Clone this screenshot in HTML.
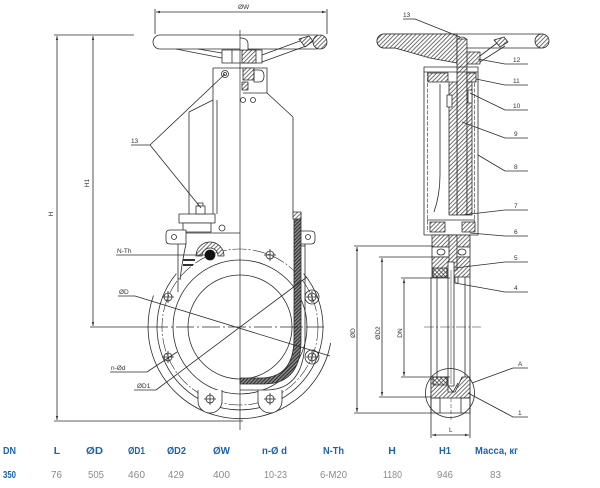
<!DOCTYPE html>
<html><head><meta charset="utf-8"><style>
html,body{margin:0;padding:0;background:#fff;}
body{width:600px;height:488px;overflow:hidden;}
svg{display:block;}
</style></head><body>
<svg xmlns="http://www.w3.org/2000/svg" width="600" height="488" viewBox="0 0 600 488">
<defs>
<pattern id="h" patternUnits="userSpaceOnUse" width="3" height="3" patternTransform="rotate(45)"><rect width="3" height="3" fill="#fff"/><line x1="0.5" y1="0" x2="0.5" y2="3" stroke="#333" stroke-width="0.7"/></pattern>
<pattern id="x" patternUnits="userSpaceOnUse" width="3" height="3" patternTransform="rotate(45)"><rect width="3" height="3" fill="#fff"/><line x1="0.5" y1="0" x2="0.5" y2="3" stroke="#333" stroke-width="0.7"/><line x1="0" y1="0.5" x2="3" y2="0.5" stroke="#333" stroke-width="0.7"/></pattern>
<pattern id="d" patternUnits="userSpaceOnUse" width="2.5" height="2.5" patternTransform="rotate(45)"><rect width="2.5" height="2.5" fill="#888"/><line x1="0.5" y1="0" x2="0.5" y2="2.5" stroke="#222" stroke-width="0.9"/></pattern>
<marker id="ar" viewBox="0 0 10 10" refX="10" refY="5" markerWidth="5" markerHeight="5" orient="auto-start-reverse"><path d="M0 2 L10 5 L0 8 z" fill="#333"/></marker>
</defs>
<rect width="600" height="488" fill="#fff"/>

<!-- ================= LEFT VIEW ================= -->
<g fill="none" stroke="#2b2b2b" stroke-width="0.8" stroke-linejoin="round">
<!-- ØW dimension -->
<line x1="155" y1="9" x2="155" y2="34"/>
<line x1="327" y1="9" x2="327" y2="34"/>
<line x1="156" y1="12" x2="326" y2="12" marker-start="url(#ar)" marker-end="url(#ar)"/>
<!-- H / H1 -->
<line x1="54" y1="35" x2="134" y2="35"/>
<line x1="57" y1="36" x2="57" y2="420" marker-start="url(#ar)" marker-end="url(#ar)"/>
<line x1="54" y1="421" x2="243" y2="421"/>
<line x1="93" y1="36" x2="93" y2="326" marker-start="url(#ar)" marker-end="url(#ar)"/>
<line x1="90" y1="327" x2="150" y2="327"/>

<!-- circles -->
<path d="M153.5 295.5 A92 92 0 1 0 330.6 343"/>
<path d="M176.4 273.6 A83 83 0 1 0 303.6 273.6"/>
<circle cx="240" cy="327" r="78" stroke-width="0.6" stroke-dasharray="14 2 2 2"/>
<circle cx="240" cy="327" r="67"/>
<circle cx="240" cy="327" r="52"/>

<!-- bottom lugs & ears -->
<path d="M198 390 V401 A12 12 0 0 0 222 401 V390" fill="#fff"/>
<path d="M258 390 V401 A12 12 0 0 0 282 401 V390" fill="#fff"/>
<circle cx="312" cy="297" r="7"/>
<circle cx="312" cy="357" r="7"/>

<!-- bolt holes -->
<g>
<circle cx="312" cy="357" r="4"/><path d="M306 357 H318 M312 351 V363"/>
<circle cx="270" cy="399" r="4"/><path d="M264 399 H276 M270 393 V405"/>
<circle cx="210" cy="399" r="4"/><path d="M204 399 H216 M210 393 V405"/>
<circle cx="168" cy="357" r="4"/><path d="M162 357 H174 M168 351 V363"/>
<circle cx="168" cy="297" r="4"/><path d="M162 297 H174 M168 291 V303"/>
<circle cx="270" cy="255" r="4"/><path d="M264 255 H276 M270 249 V261"/>
<circle cx="312" cy="297" r="4"/><path d="M306 297 H318 M312 291 V303"/>
</g>

<!-- handwheel -->
<rect x="153" y="35" width="170" height="14" rx="7" fill="#fff"/>
<circle cx="320" cy="42" r="7" fill="url(#h)"/>
<path d="M176 49 L222 58 M198 49 L222 53"/>
<path d="M262 55 L300 41 M262 62 L306 46"/>
<path d="M299 39 L309 36 L313 41 L305 47 Z" fill="url(#h)"/>
<rect x="222" y="50" width="40" height="13" fill="#fff"/>
<rect x="242" y="50" width="14" height="13" fill="url(#h)"/>
<line x1="232" y1="50" x2="232" y2="63"/>
<path d="M240 38 Q248 38 248 44 V50 H240" fill="#fff"/>

<!-- yoke -->
<path d="M213 68 H267 V93 L293 117 V214"/>
<path d="M213 68 V214"/>
<path d="M213 100 L189 112 V214"/>
<path d="M217 100 V214"/>
<path d="M243 93 H267"/>
<rect x="243" y="68" width="11" height="12" fill="url(#h)"/>
<path d="M254 70 H259 Q264 70 264 76 Q264 82 259 82 H254 Z"/>
<rect x="242" y="82" width="6" height="8" fill="url(#h)"/>
<circle cx="225" cy="74" r="3.5"/><circle cx="225" cy="74" r="1.5"/>
<circle cx="243" cy="100" r="2.5"/><circle cx="253" cy="100" r="2.5"/>

<!-- gearbox / body top -->
<rect x="179" y="214" width="36" height="9" fill="#fff"/>
<rect x="183" y="223" width="28" height="9" fill="#fff"/>
<rect x="196" y="206" width="9" height="8" fill="#fff"/>
<path d="M198 206 V203 H203 V206"/>
<circle cx="222" cy="228" r="3"/>
<path d="M170 230 H186 V244 H170 Q166 244 166 240 V234 Q166 230 170 230 Z" fill="#fff"/>
<circle cx="174" cy="237" r="2.5"/>
<path d="M186 233 H240"/>
<path d="M178 244 V292"/>
<path d="M186 244 Q182 262 180 280"/>
<path d="M196 256 A14 14 0 0 1 224 256 L218 256 A8 8 0 0 0 202 256 Z" fill="url(#h)"/>
<circle cx="210" cy="255" r="5" fill="#111"/>
<rect x="183" y="259" width="12" height="2" fill="#333" stroke="none"/>
<rect x="183" y="264" width="10" height="2" fill="#333" stroke="none"/>
<path d="M301 231 H311 Q315 231 315 235 V240 Q315 244 311 244 H301" fill="#fff"/>
<circle cx="308" cy="237" r="2.5"/>

<!-- gate strip -->
<path d="M294 214 V338 Q294 377 262 378 H240 V384 H264 Q301 384 301 340 V214 Z" fill="url(#d)"/>
<rect x="293" y="212" width="8" height="7" fill="url(#h)"/>
<path d="M305 244 V338 Q305 390 266 390 H240"/>
<path d="M301 246 H305"/>

<!-- centerlines -->
<line x1="240" y1="30" x2="240" y2="430" stroke-width="0.7"/>
<line x1="150" y1="327" x2="326" y2="327" stroke-dasharray="18 3 2 3" stroke-width="0.7"/>

<!-- leaders -->
<path d="M131 145 H150 L225 74 M150 145 L201 208"/>
<path d="M116 255 H207"/>
<path d="M118 296 H135 L330 356"/>
<path d="M110 372 H147 L177 352"/>
<path d="M134 390 H156 L307 277"/>
</g>

<!-- hole N-Th dark -->
<circle cx="210" cy="255" r="5" fill="#111"/>

<g font-family="Liberation Sans, sans-serif" font-size="6.5" fill="#333">
<text x="238" y="9">ØW</text>
<text x="131" y="143">13</text>
<text x="117" y="253">N-Th</text>
<text x="119" y="294">ØD</text>
<text x="111" y="370">n-Ød</text>
<text x="137" y="388">ØD1</text>
<text x="53" y="214" text-anchor="middle" transform="rotate(-90 53 214)">H</text>
<text x="89" y="183" text-anchor="middle" transform="rotate(-90 89 183)">H1</text>
</g>

<!-- ================= RIGHT VIEW ================= -->
<g fill="none" stroke="#2b2b2b" stroke-width="0.8" stroke-linejoin="round">
<!-- wheel -->
<rect x="377" y="34" width="171" height="14" rx="7" fill="#fff"/>
<path d="M384 34 H457 V63 L430 58 L395 48 H384 A7 7 0 0 1 384 34 Z" fill="url(#h)"/>
<circle cx="542" cy="41" r="7" fill="url(#h)"/>
<rect x="457" y="52" width="23" height="12" fill="url(#h)"/>
<path d="M480 56 L497 43 M480 62 L505 46"/>
<path d="M494 40 L504 37 L508 42 L500 47 Z" fill="url(#h)"/>
<path d="M457 40 Q462 34 467 40" fill="#fff"/>
<rect x="457" y="39" width="10" height="176" fill="url(#h)"/>

<!-- housing -->
<rect x="424" y="67" width="54" height="168" fill="none"/>
<path d="M424 72 H478"/>
<path d="M427.5 72 V232 M474.5 72 V232" stroke-dasharray="4 1.5" stroke-width="0.6"/>
<rect x="428" y="73" width="20" height="9" fill="url(#h)"/>
<rect x="467" y="73" width="9" height="9" fill="url(#h)"/>
<rect x="449" y="82" width="8" height="133" fill="url(#h)"/>
<rect x="467" y="82" width="5" height="133" fill="url(#h)"/>
<rect x="447" y="95" width="5" height="12" fill="#fff"/>
<rect x="468" y="90" width="4" height="13" fill="#fff"/>
<path d="M440 84 V175 Q440 195 434 212"/>
<path d="M427 220 H475"/>
<rect x="430" y="222" width="15" height="10" fill="url(#h)"/>
<rect x="462" y="222" width="13" height="10" fill="url(#h)"/>

<!-- neck -->
<rect x="432" y="235" width="38" height="12" fill="url(#h)"/>
<rect x="432" y="247" width="38" height="10" fill="#fff"/>
<ellipse cx="441" cy="252" rx="4" ry="3"/>
<ellipse cx="462" cy="252" rx="4" ry="3"/>
<rect x="432" y="257" width="38" height="20" fill="url(#h)"/>
<rect x="433" y="268" width="14" height="9" fill="url(#x)"/>
<rect x="449" y="235" width="8" height="35" fill="url(#h)"/>

<!-- body -->
<path d="M431 277 V413 M470 277 V413"/>
<path d="M437 277 V377 M465 277 V377"/>
<rect x="448" y="262" width="6" height="124" fill="#fff"/>
<line x1="451" y1="270" x2="451" y2="384" stroke-width="0.5"/>
<rect x="455" y="277" width="3" height="6"/>
<path d="M431 377 H448 V392 H455 L462 377 H470 V398 H431 Z" fill="url(#h)"/>
<rect x="433" y="377" width="14" height="8" fill="url(#x)"/>
<path d="M448 386 L453 392 L458 383"/>
<rect x="431" y="398" width="9" height="15"/>
<rect x="461" y="398" width="9" height="15"/>
<path d="M440 413 H461"/>
<circle cx="450" cy="393" r="24.5"/>
<line x1="424" y1="327" x2="481" y2="327" stroke-dasharray="10 2 2 2" stroke-width="0.6"/>
<line x1="451" y1="398" x2="451" y2="420" stroke-dasharray="4 2" stroke-width="0.5"/>

<!-- dimensions -->
<line x1="357" y1="247" x2="357" y2="412" marker-start="url(#ar)" marker-end="url(#ar)"/>
<line x1="354" y1="246" x2="433" y2="246"/>
<line x1="354" y1="413" x2="431" y2="413"/>
<line x1="382" y1="258" x2="382" y2="396" marker-start="url(#ar)" marker-end="url(#ar)"/>
<line x1="379" y1="257" x2="433" y2="257"/>
<line x1="379" y1="397" x2="431" y2="397"/>
<line x1="404" y1="279" x2="404" y2="376" marker-start="url(#ar)" marker-end="url(#ar)"/>
<line x1="401" y1="278" x2="450" y2="278"/>
<line x1="401" y1="377" x2="450" y2="377"/>
<line x1="431" y1="413" x2="431" y2="438"/>
<line x1="470" y1="413" x2="470" y2="438"/>
<line x1="432" y1="435" x2="469" y2="435" marker-start="url(#ar)" marker-end="url(#ar)"/>

<!-- leaders -->
<path d="M403 19 H415 L460 37"/>
<path d="M478 59 L505 64 H528"/>
<path d="M476 79 L505 85 H528"/>
<path d="M470 93 L505 110 H528"/>
<path d="M462 122 L505 138 H528"/>
<path d="M478 155 L505 171 H528"/>
<path d="M462 215 L505 210 H528"/>
<path d="M470 233 L505 236 H528"/>
<path d="M455 268 L505 262 H528"/>
<path d="M455 283 L505 292 H528"/>
<path d="M472 383 L513 368 H528"/>
<path d="M468 393 L513 417 H528"/>
</g>

<g font-family="Liberation Sans, sans-serif" font-size="6.5" fill="#333">
<text x="403" y="17">13</text>
<text x="513" y="62">12</text>
<text x="513" y="83">11</text>
<text x="513" y="108">10</text>
<text x="514" y="136">9</text>
<text x="514" y="169">8</text>
<text x="514" y="208">7</text>
<text x="514" y="234">6</text>
<text x="514" y="260">5</text>
<text x="514" y="290">4</text>
<text x="518" y="366">A</text>
<text x="518" y="415">1</text>
<text x="449" y="432">L</text>
<text x="355" y="333" text-anchor="middle" transform="rotate(-90 355 333)">ØD</text>
<text x="380" y="333" text-anchor="middle" transform="rotate(-90 380 333)">ØD2</text>
<text x="402" y="333" text-anchor="middle" transform="rotate(-90 402 333)">DN</text>
</g>

<!-- ================= TABLE ================= -->
<g font-family="Liberation Sans, sans-serif" font-size="10.5" font-weight="bold" fill="#1f62a8">
<text x="3" y="454" textLength="13" lengthAdjust="spacingAndGlyphs">DN</text>
<text x="57" y="454" text-anchor="middle">L</text>
<text x="94.5" y="454" text-anchor="middle" textLength="17" lengthAdjust="spacingAndGlyphs">ØD</text>
<text x="136.5" y="454" text-anchor="middle" textLength="17" lengthAdjust="spacingAndGlyphs">ØD1</text>
<text x="176.5" y="454" text-anchor="middle" textLength="19" lengthAdjust="spacingAndGlyphs">ØD2</text>
<text x="221.5" y="454" text-anchor="middle" textLength="17" lengthAdjust="spacingAndGlyphs">ØW</text>
<text x="274.5" y="454" text-anchor="middle" textLength="25" lengthAdjust="spacingAndGlyphs">n-Ø d</text>
<text x="333.5" y="454" text-anchor="middle" textLength="21" lengthAdjust="spacingAndGlyphs">N-Th</text>
<text x="392" y="454" text-anchor="middle">H</text>
<text x="445" y="454" text-anchor="middle" textLength="12" lengthAdjust="spacingAndGlyphs">H1</text>
<text x="496.5" y="454" text-anchor="middle" textLength="43" lengthAdjust="spacingAndGlyphs">Масса, кг</text>
<text x="3" y="478" textLength="13" lengthAdjust="spacingAndGlyphs">350</text>
</g>
<g font-family="Liberation Sans, sans-serif" font-size="10.5" fill="#8a8a8a">
<text x="56.5" y="478" text-anchor="middle" textLength="11" lengthAdjust="spacingAndGlyphs">76</text>
<text x="96" y="478" text-anchor="middle" textLength="16" lengthAdjust="spacingAndGlyphs">505</text>
<text x="136.5" y="478" text-anchor="middle" textLength="17" lengthAdjust="spacingAndGlyphs">460</text>
<text x="176" y="478" text-anchor="middle" textLength="16" lengthAdjust="spacingAndGlyphs">429</text>
<text x="221.5" y="478" text-anchor="middle" textLength="17" lengthAdjust="spacingAndGlyphs">400</text>
<text x="275.5" y="478" text-anchor="middle" textLength="23" lengthAdjust="spacingAndGlyphs">10-23</text>
<text x="333.5" y="478" text-anchor="middle" textLength="27" lengthAdjust="spacingAndGlyphs">6-M20</text>
<text x="392.5" y="478" text-anchor="middle" textLength="19" lengthAdjust="spacingAndGlyphs">1180</text>
<text x="445" y="478" text-anchor="middle" textLength="16" lengthAdjust="spacingAndGlyphs">946</text>
<text x="495.5" y="478" text-anchor="middle" textLength="11" lengthAdjust="spacingAndGlyphs">83</text>
</g>
</svg>
</body></html>
